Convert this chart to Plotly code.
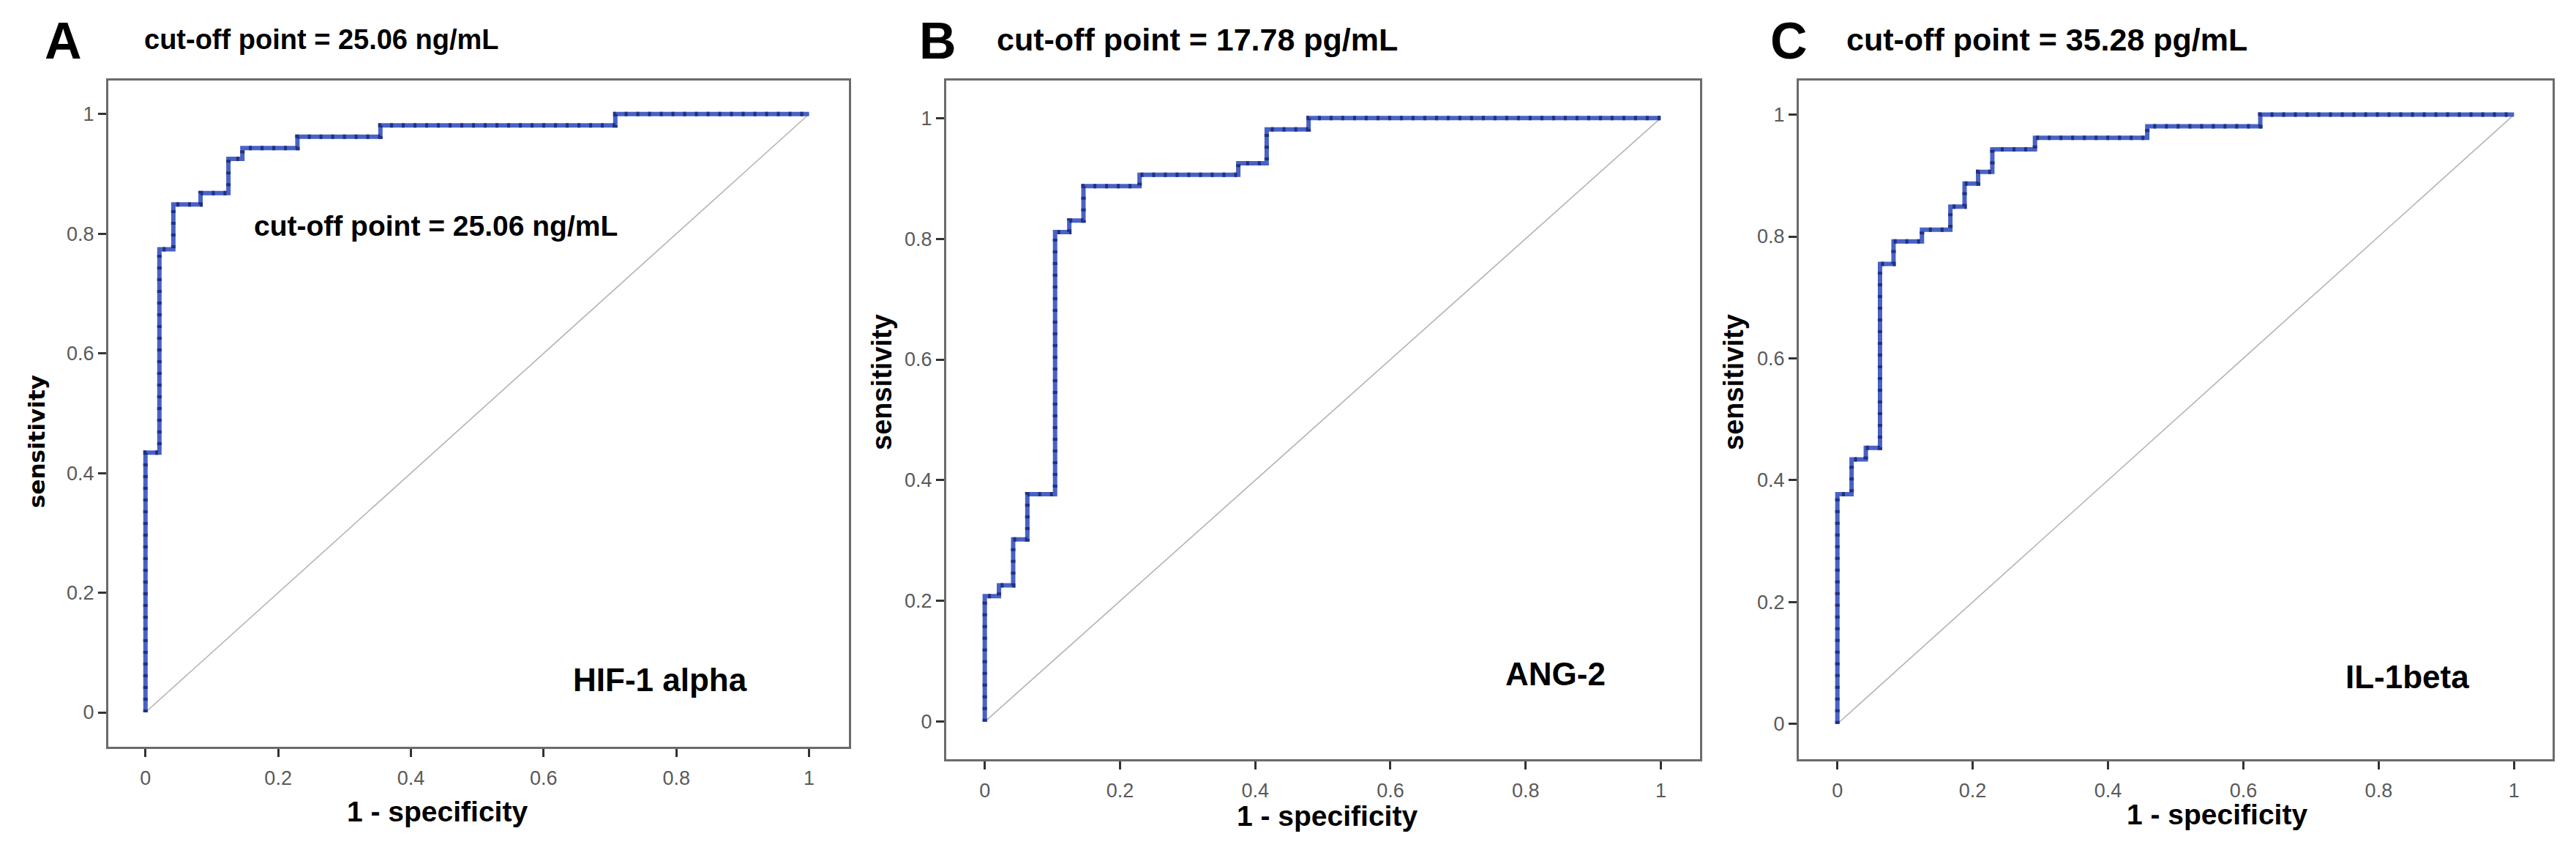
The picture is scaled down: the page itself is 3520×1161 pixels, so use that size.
import plotly.graph_objects as go

# ROC curves (1 - specificity, sensitivity), step corners
fpr_hif = [0, 0, 0.021, 0.042, 0.083, 0.125, 0.146, 0.229, 0.354, 0.708, 1.0]
tpr_hif = [0, 0.434, 0.774, 0.849, 0.868, 0.925, 0.943, 0.962, 0.981, 1.0, 1.0]

fpr_ang = [0, 0, 0.021, 0.042, 0.063, 0.104, 0.125, 0.146, 0.229, 0.375, 0.417, 0.479, 1.0]
tpr_ang = [0, 0.208, 0.226, 0.302, 0.377, 0.811, 0.830, 0.887, 0.906, 0.925, 0.981, 1.0, 1.0]

fpr_il = [0, 0, 0.021, 0.042, 0.063, 0.083, 0.125, 0.167, 0.188, 0.208, 0.229, 0.292, 0.458, 0.625, 1.0]
tpr_il = [0, 0.377, 0.434, 0.453, 0.755, 0.792, 0.811, 0.849, 0.887, 0.906, 0.943, 0.962, 0.981, 1.0, 1.0]

ref_line = [0, 1]
tick_vals = [0, 0.2, 0.4, 0.6, 0.8, 1]
tick_text = ["0", "0.2", "0.4", "0.6", "0.8", "1"]

panel_letters = ["A", "B", "C"]
cutoff_texts = ["cut-off point = 25.06 ng/mL", "cut-off point = 17.78 pg/mL", "cut-off point = 35.28 pg/mL"]
marker_names = ["HIF-1 alpha", "ANG-2", "IL-1beta"]

SANS = "Liberation Sans, Arial, Helvetica"
WIDE = "DejaVu Sans, Verdana, sans-serif"

# page body keeps an 8px margin, so the figure is drawn 16px smaller
W, H, OFF = 3504, 1145, 8


def px_x(p):
    return (p - OFF) / W


def px_y(p):
    return 1 - (p - OFF) / H


curves = [(fpr_hif, tpr_hif), (fpr_ang, tpr_ang), (fpr_il, tpr_il)]
frames = [(148, 1160, 110, 1020), (1293, 2323, 110, 1037), (2458, 3488, 110, 1037)]
x_ranges = [[-0.056, 1.06], [-0.057, 1.058], [-0.057, 1.057]]
y_ranges = [[-0.0575, 1.056], [-0.062, 1.062], [-0.058, 1.056]]

fig = go.Figure()

for i, (fx, fy) in enumerate(curves):
    sfx = "" if i == 0 else str(i + 1)
    # chance line
    fig.add_trace(go.Scatter(
        x=ref_line, y=ref_line, mode="lines", xaxis="x" + sfx, yaxis="y" + sfx,
        line=dict(color="#b4b4b4", width=1.6), showlegend=False, hoverinfo="skip"))
    # ROC step line
    fig.add_trace(go.Scatter(
        x=fx, y=fy, mode="lines", line_shape="hv", xaxis="x" + sfx, yaxis="y" + sfx,
        line=dict(color="#4862c6", width=6), showlegend=False))
    # darker point marks along the line
    fig.add_trace(go.Scatter(
        x=fx, y=fy, mode="lines", line_shape="hv", xaxis="x" + sfx, yaxis="y" + sfx,
        line=dict(color="#22317f", width=6, dash="4px,12px"), showlegend=False,
        hoverinfo="skip"))

layout_axes = {}
for i in range(3):
    sfx = "" if i == 0 else str(i + 1)
    left, right, top, bottom = frames[i]
    axis_common = dict(
        showline=True, mirror=True, linecolor="#6b6b6b", linewidth=3,
        showgrid=False, zeroline=False, ticks="outside", ticklen=11, tickwidth=2.5,
        tickcolor="#333333", tickvals=tick_vals, ticktext=tick_text,
        tickfont=dict(family=SANS, size=27, color="#5a5a5a"),
    )
    layout_axes["xaxis" + sfx] = dict(axis_common, domain=[px_x(left), px_x(right)],
                                      range=x_ranges[i], anchor="y" + sfx,
                                      ticklabelstandoff=6)
    layout_axes["yaxis" + sfx] = dict(axis_common, domain=[px_y(bottom), px_y(top)],
                                      range=y_ranges[i], anchor="x" + sfx)

annotations = []


def paper_text(text, x, y, family, size, angle=0, xanchor="center"):
    annotations.append(dict(text="<b>%s</b>" % text, x=px_x(x), y=px_y(y),
                            xref="paper", yref="paper", xanchor=xanchor, yanchor="middle",
                            textangle=angle, showarrow=False,
                            font=dict(family=family, size=size, color="black")))


# panel letters and top titles
letter_x = [86, 1281, 2444]
title_x = [195, 1360, 2521]
title_size = [38, 43, 43]
for i in range(3):
    paper_text(panel_letters[i], letter_x[i], 56, SANS, 70)
    paper_text(cutoff_texts[i], title_x[i], 54, SANS, title_size[i], xanchor="left")

# axis titles
ytitle_pos = [(50, 603), (1205, 522), (2369, 522)]
ytitle_fonts = [(WIDE, 31), (SANS, 38), (SANS, 38)]
xtitle_pos = [(597, 1108), (1813, 1114), (3029, 1112)]
for i in range(3):
    paper_text("sensitivity", ytitle_pos[i][0], ytitle_pos[i][1],
               ytitle_fonts[i][0], ytitle_fonts[i][1], angle=-90)
    paper_text("1 - specificity", xtitle_pos[i][0], xtitle_pos[i][1], SANS, 39)

# labels inside the plots
label_pos = [(0.775, 0.055), (0.844, 0.079), (0.842, 0.077)]
for i in range(3):
    sfx = "" if i == 0 else str(i + 1)
    annotations.append(dict(text="<b>%s</b>" % marker_names[i], x=label_pos[i][0], y=label_pos[i][1],
                            xref="x" + sfx, yref="y" + sfx, showarrow=False,
                            xanchor="center", yanchor="middle",
                            font=dict(family=SANS, size=44, color="black")))
annotations.append(dict(text="<b>cut-off point = 25.06 ng/mL</b>", x=0.437, y=0.813,
                        xref="x", yref="y", showarrow=False, xanchor="center", yanchor="middle",
                        font=dict(family=SANS, size=39, color="black")))

fig.update_layout(
    width=W, height=H,
    margin=dict(l=0, r=0, t=0, b=0),
    paper_bgcolor="white", plot_bgcolor="white",
    annotations=annotations,
    **layout_axes
)

fig.write_html("out.html")
